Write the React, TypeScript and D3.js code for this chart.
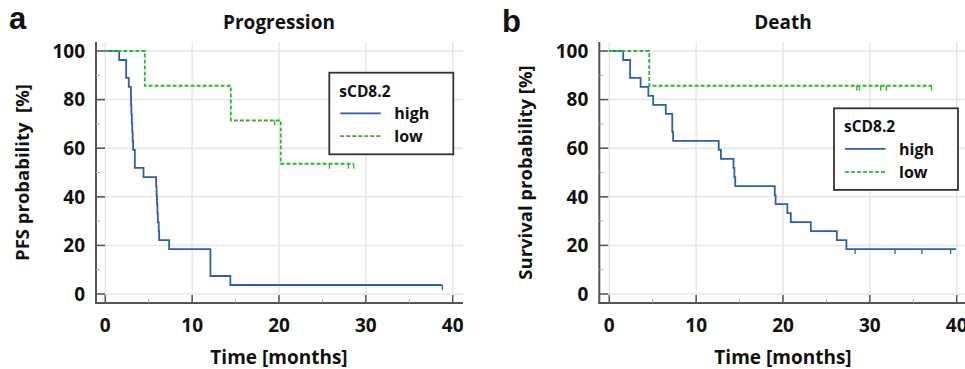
import React from 'react';
import * as d3 from 'd3';

// Kaplan-Meier curves (time in months, survival in %)
const pfsHighTimes = [0, 1.6, 2.4, 2.7, 2.95, 2.97, 3.0, 3.05, 3.1, 3.15, 3.2, 3.4, 4.4, 5.85, 5.9, 5.95, 6.0, 6.05, 6.15, 6.2, 7.35, 12.1, 14.4, 38.8];
const pfsHighSurv = [100, 96.3, 88.9, 85.2, 81.5, 77.8, 74.1, 70.4, 66.7, 63.0, 59.3, 51.9, 48.1, 44.4, 40.7, 37.0, 33.3, 29.6, 25.9, 22.2, 18.5, 7.4, 3.7, 3.7];
const pfsHighCensor = [38.8];

const pfsLowTimes = [0, 4.55, 14.45, 20.2, 28.6];
const pfsLowSurv = [100, 85.7, 71.4, 53.6, 53.6];
const pfsLowCensor = [19.5, 25.8, 28.0, 28.6];

const osHighTimes = [0, 1.6, 2.4, 3.6, 4.5, 5.05, 6.5, 7.25, 7.35, 12.6, 12.85, 14.3, 14.4, 14.5, 19.05, 19.15, 20.5, 20.9, 23.2, 26.2, 27.3, 39.9];
const osHighSurv = [100, 96.3, 88.9, 85.2, 81.5, 77.8, 74.1, 66.7, 63.0, 59.3, 55.6, 51.9, 48.1, 44.4, 40.7, 37.0, 33.3, 29.6, 25.9, 22.2, 18.5, 18.5];
const osHighCensor = [28.3, 32.9, 36.0, 39.3];

const osLowTimes = [0, 4.6, 37.1];
const osLowSurv = [100, 85.7, 85.7];
const osLowCensor = [28.5, 28.8, 31.25, 31.9, 37.1];

const xTicks = [0, 10, 20, 30, 40];
const xMinor = [5, 15, 25, 35];
const yTicks = [0, 20, 40, 60, 80, 100];
const yMinor = [10, 30, 50, 70, 90];

const legendTitle = 'sCD8.2';
const legendLabels = ['high', 'low'];

const BLUE = '#2a5fb4';
const GREEN = '#2fb52f';
const AXIS = '#555';
const GRID = '#e6e6e6';
const FONT = '"Open Sans", sans-serif';

type Curve = { times: number[]; surv: number[]; censor: number[]; color: string; dash?: string };

interface PanelProps {
  letter: string;
  letterX: number;
  letterY: number;
  title: string;
  yLabel: string;
  axisX: number;
  x0: number;
  x40: number;
  xEnd: number;
  legendX: number;
  legendY: number;
  curves: Curve[];
}

const Panel: React.FC<PanelProps> = ({ letter, letterX, letterY, title, yLabel, axisX, x0, x40, xEnd, legendX, legendY, curves }) => {
  const x = d3.scaleLinear().domain([0, 40]).range([x0, x40]);
  const y = d3.scaleLinear().domain([0, 100]).range([294, 51]);
  const top = 42;
  const bottom = 303;
  const line = d3
    .line<[number, number]>()
    .x((d) => x(d[0]))
    .y((d) => y(d[1]))
    .curve(d3.curveStepAfter);

  const midX = (x0 + x40) / 2;

  return (
    <g>
      {/* grid */}
      {yTicks.map((v) => (
        <line key={'gy' + v} x1={axisX} x2={xEnd} y1={y(v)} y2={y(v)} stroke={GRID} strokeWidth={1.5} />
      ))}
      {xTicks.map((v) => (
        <line key={'gx' + v} x1={x(v)} x2={x(v)} y1={top} y2={bottom} stroke={GRID} strokeWidth={1.5} />
      ))}

      {/* curves */}
      {curves.map((c, i) => {
        const pts = c.times.map((t, k) => [t, c.surv[k]] as [number, number]);
        const survAt = (t: number) => {
          let s = c.surv[0];
          c.times.forEach((tt, k) => {
            if (tt <= t) s = c.surv[k];
          });
          return s;
        };
        return (
          <g key={'c' + i}>
            <path d={line(pts) || ''} fill="none" stroke={c.color} strokeWidth={1.8} strokeDasharray={c.dash} />
            {c.censor.map((t, k) => (
              <line key={k} x1={x(t)} x2={x(t)} y1={y(survAt(t))} y2={y(survAt(t)) + 5} stroke={c.color} strokeWidth={1.3} />
            ))}
          </g>
        );
      })}

      {/* axes */}
      <line x1={axisX} x2={axisX} y1={top} y2={bottom + 1} stroke={AXIS} strokeWidth={2} />
      <line x1={axisX - 1} x2={xEnd} y1={bottom} y2={bottom} stroke={AXIS} strokeWidth={2} />
      {yTicks.map((v) => (
        <line key={'ty' + v} x1={axisX} x2={axisX + 9} y1={y(v)} y2={y(v)} stroke={AXIS} strokeWidth={1.5} />
      ))}
      {yMinor.map((v) => (
        <line key={'my' + v} x1={axisX} x2={axisX + 4} y1={y(v)} y2={y(v)} stroke="#aaa" strokeWidth={1} />
      ))}
      {xTicks.map((v) => (
        <line key={'tx' + v} x1={x(v)} x2={x(v)} y1={bottom} y2={bottom - 8} stroke={AXIS} strokeWidth={1.5} />
      ))}
      {xMinor.map((v) => (
        <line key={'mx' + v} x1={x(v)} x2={x(v)} y1={bottom} y2={bottom - 4} stroke="#aaa" strokeWidth={1} />
      ))}

      {/* tick labels */}
      {yTicks.map((v) => (
        <text key={'ly' + v} x={axisX - 11} y={y(v) + 6.8} textAnchor="end" fontSize={19} fontWeight={700} fontFamily={FONT} fill="#111">
          {v}
        </text>
      ))}
      {xTicks.map((v) => (
        <text key={'lx' + v} x={x(v)} y={331.5} textAnchor="middle" fontSize={19} fontWeight={700} fontFamily={FONT} fill="#111">
          {v}
        </text>
      ))}

      {/* axis titles */}
      <text x={midX} y={363.5} textAnchor="middle" fontSize={19} fontWeight={700} fontFamily={FONT} fill="#111">
        Time [months]
      </text>
      <text
        transform={`translate(${axisX - 67},${(y(0) + y(100)) / 2}) rotate(-90)`}
        textAnchor="middle"
        fontSize={18.5}
        fontWeight={700}
        fontFamily={FONT}
        fill="#111"
        style={{ whiteSpace: 'pre' }}
      >
        {yLabel}
      </text>
      <text x={midX} y={28.5} textAnchor="middle" fontSize={19} fontWeight={700} fontFamily={FONT} fill="#111">
        {title}
      </text>
      <text x={letterX} y={letterY} fontSize={31} fontWeight={700} fontFamily='"Liberation Sans", Arial, sans-serif' fill="#111">
        {letter}
      </text>

      {/* legend */}
      <g transform={`translate(${legendX},${legendY})`}>
        <rect x={0} y={0} width={124} height={81.6} fill="#fff" stroke="#333" strokeWidth={1.8} />
        <text x={10} y={24} fontSize={15.5} fontWeight={700} fontFamily={FONT} fill="#111">
          {legendTitle}
        </text>
        {legendLabels.map((lab, i) => (
          <g key={lab} transform={`translate(0,${40.6 + i * 22.9})`}>
            <line x1={11} x2={51.5} y1={0} y2={0} stroke={curves[i].color} strokeWidth={1.8} strokeDasharray={curves[i].dash} />
            <text x={65} y={6} fontSize={16} fontWeight={700} fontFamily={FONT} fill="#111">
              {lab}
            </text>
          </g>
        ))}
      </g>
    </g>
  );
};

export default function App() {
  return (
    <svg width={965} height={369} style={{ position: 'absolute', left: 0, top: 0, background: '#fff' }}>
      <rect width={965} height={369} fill="#fff" />
      <Panel
        letter="a"
        letterX={9}
        letterY={29}
        title="Progression"
        yLabel="PFS probability  [%]"
        axisX={96}
        x0={105.3}
        x40={452.7}
        xEnd={463}
        legendX={329.3}
        legendY={72.7}
        curves={[
          { times: pfsHighTimes, surv: pfsHighSurv, censor: pfsHighCensor, color: BLUE },
          { times: pfsLowTimes, surv: pfsLowSurv, censor: pfsLowCensor, color: GREEN, dash: '4,2' },
        ]}
      />
      <Panel
        letter="b"
        letterX={502}
        letterY={32}
        title="Death"
        yLabel="Survival probability [%]"
        axisX={599.3}
        x0={609.3}
        x40={956.7}
        xEnd={970}
        legendX={834}
        legendY={108.3}
        curves={[
          { times: osHighTimes, surv: osHighSurv, censor: osHighCensor, color: BLUE },
          { times: osLowTimes, surv: osLowSurv, censor: osLowCensor, color: GREEN, dash: '4,2' },
        ]}
      />
    </svg>
  );
}
